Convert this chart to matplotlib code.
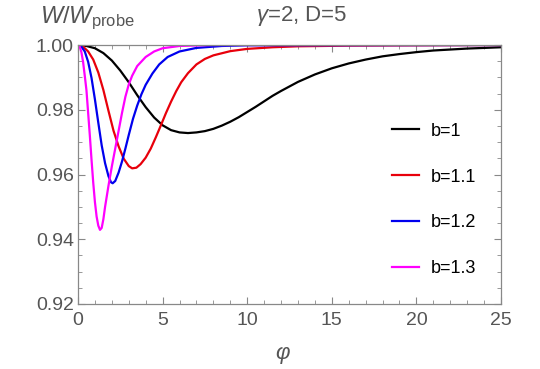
import matplotlib

matplotlib.use("Agg")
import matplotlib.pyplot as plt
from matplotlib.ticker import MultipleLocator

# values
phi_b10 = [0.0, 0.5, 1.0, 1.5, 2.0, 2.5, 3.0, 3.5, 4.0, 4.5, 5.0, 5.5, 6.0, 6.5, 7.0,
           7.5, 8.0, 8.5, 9.0, 9.5, 10.0, 10.5, 11.0, 11.5, 12.0, 12.5, 13.0, 14.0,
           15.0, 16.0, 17.0, 18.0, 19.0, 20.0, 21.0, 22.0, 23.0, 24.0, 25.0]
w_b10 = [1.0, 0.9997, 0.9990, 0.9975, 0.9952, 0.9921, 0.9885, 0.9845, 0.9808, 0.9776,
         0.9752, 0.9737, 0.9730, 0.9728, 0.9730, 0.9734, 0.9741, 0.9751, 0.9763,
         0.9777, 0.9793, 0.9809, 0.9826, 0.9843, 0.9858, 0.9872, 0.9886, 0.9909,
         0.9928, 0.9943, 0.9955, 0.9965, 0.9972, 0.9978, 0.9983, 0.9986, 0.9989,
         0.9991, 0.9993]

phi_b11 = [0.0, 0.3, 0.6, 0.9, 1.2, 1.5, 1.8, 2.1, 2.4, 2.7, 3.0, 3.2, 3.45, 3.7, 4.0,
           4.3, 4.6, 4.9, 5.2, 5.5, 5.8, 6.1, 6.5, 7.0, 7.5, 8.0, 9.0, 10.0, 11.5,
           13.0, 16.0, 20.0, 25.0]
w_b11 = [1.0, 0.9995, 0.9980, 0.9955, 0.9915, 0.9861, 0.9797, 0.9735, 0.9687, 0.9649,
         0.9626, 0.9619, 0.9621, 0.9632, 0.9652, 0.9680, 0.9715, 0.9752, 0.9790,
         0.9825, 0.9857, 0.9885, 0.9913, 0.9940, 0.9957, 0.9968, 0.9981, 0.9988,
         0.9993, 0.9996, 0.9998, 0.9999, 1.0]

phi_b12 = [0.0, 0.2, 0.4, 0.6, 0.8, 1.0, 1.2, 1.4, 1.6, 1.8, 1.95, 2.05, 2.2, 2.4, 2.6,
           2.8, 3.0, 3.25, 3.5, 3.75, 4.0, 4.4, 4.8, 5.3, 6.0, 7.0, 8.5, 10.0, 25.0]
w_b12 = [1.0, 0.9995, 0.9980, 0.9948, 0.9898, 0.9832, 0.9760, 0.9690, 0.9635, 0.9595,
         0.9576, 0.9573, 0.9580, 0.9606, 0.9640, 0.9680, 0.9722, 0.9772, 0.9813,
         0.9848, 0.9877, 0.9912, 0.9940, 0.9963, 0.9980, 0.9991, 0.9997, 0.9999, 1.0]

phi_b13 = [0.0, 0.1, 0.2, 0.3, 0.4, 0.5, 0.6, 0.7, 0.8, 0.9, 1.0, 1.1, 1.2, 1.3, 1.4,
           1.5, 1.6, 1.8, 2.0, 2.2, 2.4, 2.6, 2.8, 3.0, 3.2, 3.5, 4.0, 4.5, 5.0, 6.0,
           8.0, 25.0]
w_b13 = [1.0, 0.9995, 0.9978, 0.9948, 0.9905, 0.9860, 0.9790, 0.9720, 0.9645, 0.9575,
         0.9515, 0.9470, 0.9442, 0.9429, 0.9435, 0.9462, 0.9500, 0.9565, 0.9625,
         0.9680, 0.9735, 0.9790, 0.9840, 0.9878, 0.9905, 0.9935, 0.9963, 0.9980,
         0.9990, 0.9997, 1.0, 1.0]

curves = [
    (phi_b10, w_b10, "black", "b=1"),
    (phi_b11, w_b11, "#e8000b", "b=1.1"),
    (phi_b12, w_b12, "#0000ee", "b=1.2"),
    (phi_b13, w_b13, "#ff00ff", "b=1.3"),
]

GRAY = "#555555"
plt.rcParams["font.family"] = ["Liberation Sans", "DejaVu Sans"]
plt.rcParams["mathtext.fontset"] = "custom"
plt.rcParams["mathtext.rm"] = "Liberation Sans"
plt.rcParams["mathtext.it"] = "Liberation Sans:italic"

fig = plt.figure(figsize=(5.4, 3.69), dpi=100)
ax = fig.add_axes([78 / 540, 1 - 304 / 369, 423 / 540, 259 / 369])

for x, y, c, lab in curves:
    ax.plot(x, y, color=c, lw=1.6, label=lab, solid_joinstyle="round")

ax.set_xlim(0, 25)
ax.set_ylim(0.92, 1.0)
ax.xaxis.set_major_locator(MultipleLocator(5))
ax.xaxis.set_minor_locator(MultipleLocator(1))
ax.yaxis.set_major_locator(MultipleLocator(0.02))
ax.yaxis.set_minor_locator(MultipleLocator(0.005))
ax.set_yticklabels([f"{v:.2f}" for v in ax.get_yticks()])

for s in ax.spines.values():
    s.set_color("#888888")
    s.set_linewidth(0.9)
ax.tick_params(which="both", direction="in", top=True, right=True,
               color="#888888", labelcolor=GRAY, labelsize=14)
ax.tick_params(which="major", length=5, width=0.8, pad=3)
ax.tick_params(which="minor", length=3, width=0.6)
ax.tick_params(axis="x", which="major", pad=6)

leg = ax.legend(loc="upper left", bbox_to_anchor=(0.72, 0.735), frameon=False,
                fontsize=13, handlelength=1.5, handletextpad=0.65,
                labelspacing=1.6, borderpad=0)

fig.text(40 / 540, 1 - 18 / 369, r"$W/W_{\mathrm{probe}}$", color=GRAY,
         fontsize=17, ha="left", va="center")
fig.text(302 / 540, 1 - 16 / 369, r"$\gamma$=2, D=5", color=GRAY,
         fontsize=16, ha="center", va="center")
fig.text(283 / 540, 1 - 355 / 369, r"$\varphi$", color=GRAY,
         fontsize=16, ha="center", va="center")

fig.savefig("out.png", dpi=100)
